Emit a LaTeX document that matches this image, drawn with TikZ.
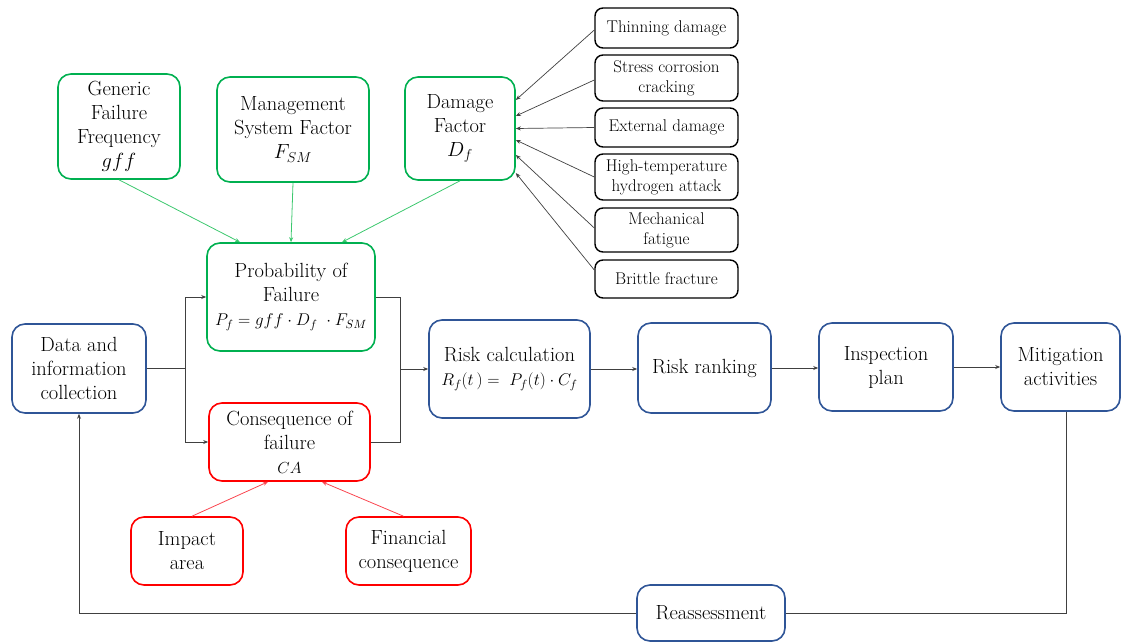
\RequirePackage{fix-cm}
\documentclass[tikz,border=0pt]{standalone}
\usepackage{fontspec}
\usetikzlibrary{arrows.meta,calc}

\definecolor{pgreen}{RGB}{0,176,80}
\definecolor{lgreen}{RGB}{60,200,110}
\definecolor{pred}{RGB}{255,0,0}
\definecolor{lred}{RGB}{250,70,80}
\definecolor{pblue}{RGB}{47,85,151}
\definecolor{conn}{RGB}{64,64,64}

\tikzset{
  basebox/.style={draw, rounded corners=13pt, line width=1.6pt, align=center,
    inner sep=0pt, font=\rmfamily\fontsize{20.5}{24}\selectfont, text=black},
  gbox/.style={basebox, draw=pgreen},
  rbox/.style={basebox, draw=pred},
  bbox/.style={basebox, draw=pblue},
  kbox/.style={draw=black, rounded corners=8pt, line width=1.4pt, align=center,
    inner sep=0pt, font=\rmfamily\fontsize{17}{20}\selectfont, minimum width=143pt},
  tip/.style={-{Stealth[length=5pt,width=4pt]}},
  flow/.style={draw=conn, line width=0.9pt},
  garrow/.style={draw=lgreen, line width=0.8pt, tip},
  rarrow/.style={draw=lred, line width=0.8pt, tip},
  karrow/.style={draw=conn, line width=0.7pt, tip},
}
\newcommand{\formulasize}{\fontsize{17}{21}\selectfont}

\begin{document}
\begin{tikzpicture}[x=1pt,y=-1pt]
\useasboundingbox (0,0) rectangle (1126,642);

% probability inputs
\node[gbox, minimum width=122pt, minimum height=105pt] (gff) at (119,126.5)
  {Generic\\Failure\\Frequency\\$gff$};
\node[gbox, minimum width=152pt, minimum height=105pt] (fsm) at (293,129.5)
  {Management\\System Factor\\$F_{SM}$};
\node[gbox, minimum width=110pt, minimum height=103pt] (df) at (460,128.5)
  {Damage\\Factor\\$D_f$};

% damage mechanisms
\node[kbox, minimum height=40pt] (thin) at (666.5,28) {Thinning damage};
\node[kbox, minimum height=46pt] (scc)  at (666.5,78) {Stress corrosion\\cracking};
\node[kbox, minimum height=39pt] (ext)  at (666.5,127.5) {External damage};
\node[kbox, minimum height=46pt] (htha) at (666.5,177) {High-temperature\\hydrogen attack};
\node[kbox, minimum height=44pt] (mech) at (666.5,230) {Mechanical\\fatigue};
\node[kbox, minimum height=38pt] (brit) at (666.5,279) {Brittle fracture};

% core assessment chain
\node[gbox, minimum width=168pt, minimum height=108pt] (pof) at (291,297)
  {Probability of\\Failure\\{\formulasize$P_f = gff\cdot D_f\ \cdot F_{SM}$}};
\node[bbox, minimum width=134pt, minimum height=89pt] (data) at (79,368.5)
  {Data and\\information\\collection};
\node[rbox, minimum width=161pt, minimum height=78pt] (cof) at (289.5,442)
  {Consequence of\\failure\\{\fontsize{16}{20}\selectfont$CA$}};
\node[rbox, minimum width=112pt, minimum height=68pt] (imp) at (187,551)
  {Impact\\area};
\node[rbox, minimum width=125pt, minimum height=68pt] (fin) at (408.5,551)
  {Financial\\consequence};

\node[bbox, minimum width=161pt, minimum height=98pt] (risk) at (509.5,369)
  {Risk calculation\\{\formulasize$R_f(t\,) =\ P_f(t)\cdot C_f$}};
\node[bbox, minimum width=133pt, minimum height=90pt] (rank) at (704.5,368)
  {Risk ranking};
\node[bbox, minimum width=134pt, minimum height=88pt] (insp) at (886,367)
  {Inspection\\plan};
\node[bbox, minimum width=119pt, minimum height=88pt] (mitig) at (1060.5,367)
  {Mitigation\\activities};
\node[bbox, minimum width=148pt, minimum height=56pt] (reas) at (711,613)
  {Reassessment};

% junction points
\coordinate (jL) at (185,368.5);
\coordinate (jR) at (400,369);

% green inputs to probability of failure
\draw[garrow] (gff.south) -- ([xshift=-51pt]pof.north);
\draw[garrow] (fsm.south) -- (pof.north);
\draw[garrow] (df.south) -- ([xshift=51pt]pof.north);

% damage mechanisms into damage factor
\draw[karrow] ([yshift=-2pt]thin.west) -- ([yshift=28.5pt]df.east);
\draw[karrow] ([yshift=-2pt]scc.west)  -- ([yshift=12.5pt]df.east);
\draw[karrow] (ext.west)  -- (df.east);
\draw[karrow] (htha.west) -- ([yshift=-11.5pt]df.east);
\draw[karrow] ([yshift=2pt]mech.west) -- ([yshift=-26.5pt]df.east);
\draw[karrow] ([yshift=9pt]brit.west) -- ([yshift=-44.5pt]df.east);

% red inputs to consequence of failure
\draw[rarrow] ([xshift=5pt]imp.north) -- ([xshift=-21.5pt]cof.south);
\draw[rarrow] ([xshift=-5pt]fin.north) -- ([xshift=32.5pt]cof.south);

% branching and merging
\draw[flow] (data.east) -- (jL);
\draw[flow, tip] (jL) |- (pof.west);
\draw[flow, tip] (jL) |- (cof.west);
\draw[flow] (pof.east) -| (jR);
\draw[flow] (cof.east) -| (jR);
\draw[flow, tip] (jR) -- (risk.west);

% main sequence
\draw[flow, tip] (risk.east) -- (risk.east -| rank.west);
\draw[flow, tip] (rank.east) -- (rank.east -| insp.west);
\draw[flow, tip] (insp.east) -- (insp.east -| mitig.west);

% feedback loop
\draw[flow] ([xshift=6pt]mitig.south) |- (reas.east);
\draw[flow, tip] (reas.west) -| (data.south);
\end{tikzpicture}
\end{document}
